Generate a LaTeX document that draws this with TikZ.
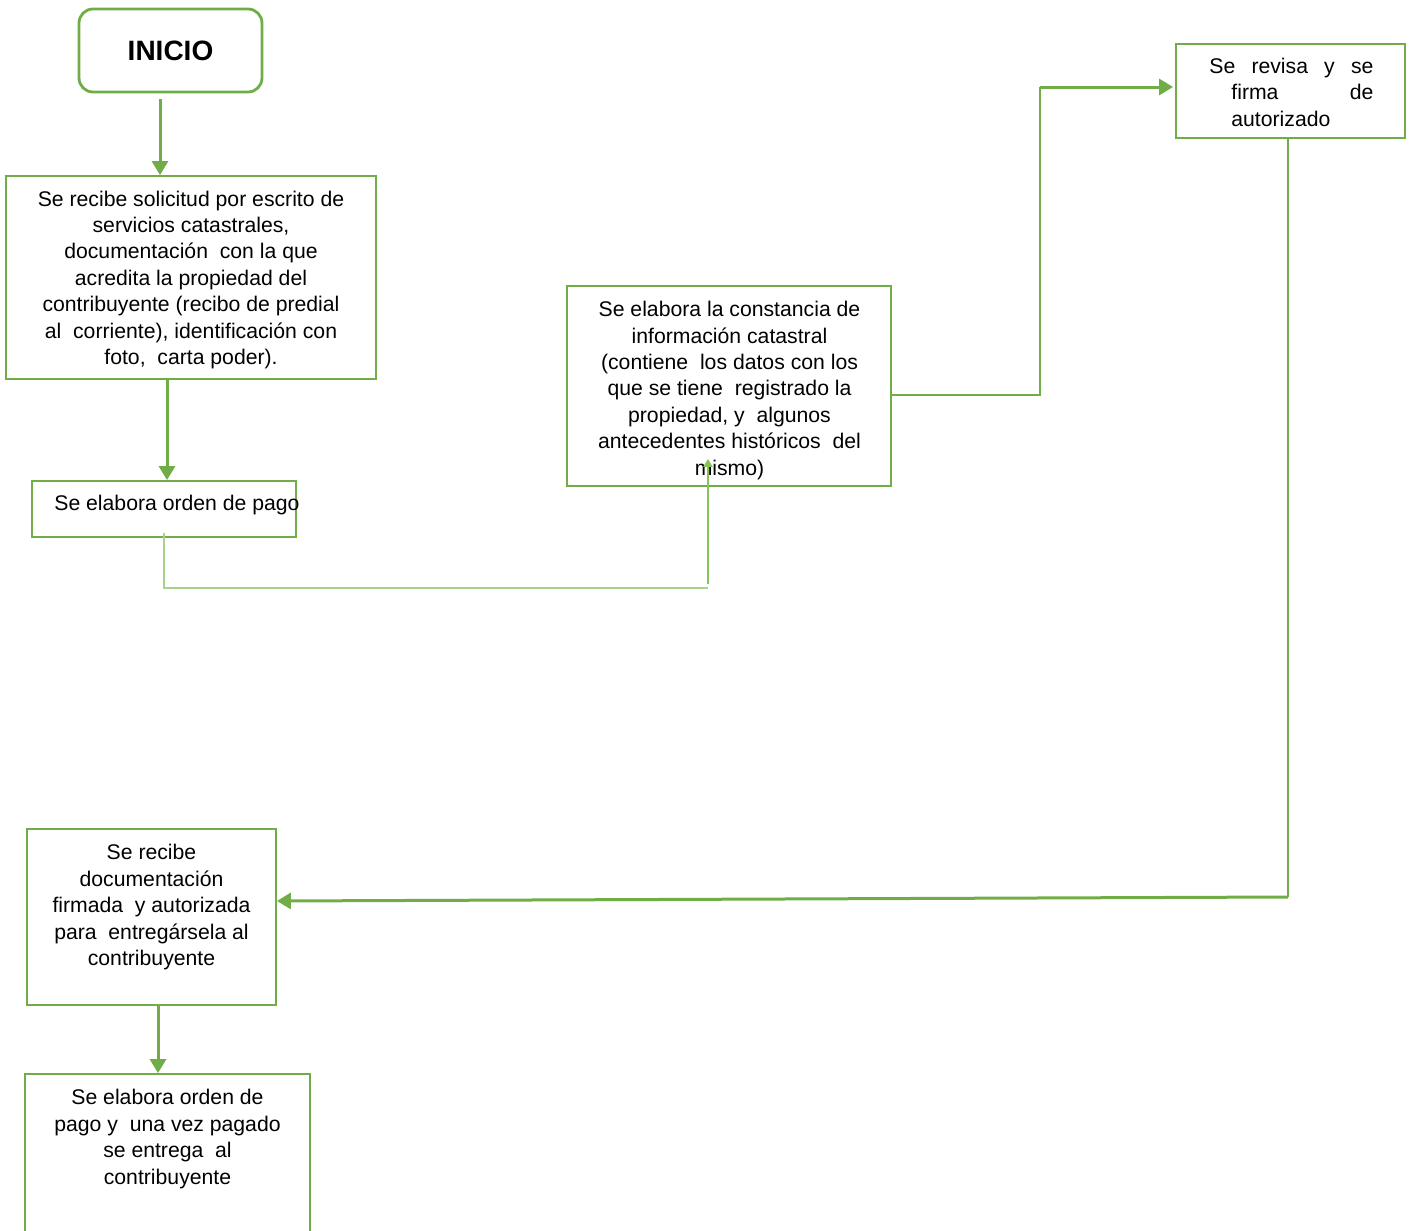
\documentclass[tikz,border=0pt]{standalone}
\usepackage{fontspec}
\setmainfont{Liberation Sans}
\usetikzlibrary{arrows.meta}
\definecolor{boxgreen}{HTML}{70AD47}
\definecolor{palegreen}{HTML}{A9D18E}
\definecolor{brightgreen}{HTML}{84C556}

\begin{document}
\begin{tikzpicture}[x=0.5pt,y=-0.5pt,
  box/.style={draw=boxgreen,line width=0.9pt,inner sep=0pt,rectangle},
  % multi-line texts are placed by the baseline of their last line
  txt/.style={align=center,inner sep=0pt,anchor=base,
    font=\fontsize{10.6}{13.2}\selectfont},
  arr/.style={draw=boxgreen,line width=1.5pt,
    -{Triangle[length=7pt,width=8pt]}},
  link/.style={draw=boxgreen,line width=0.8pt},
  palelink/.style={draw=palegreen,line width=0.8pt},
  uparr/.style={draw=brightgreen,line width=1.4pt,
    -{Triangle[length=4pt,width=4.5pt]}},
]
\useasboundingbox (0,0) rectangle (1409,1231);
\clip (0,0) rectangle (1409,1231);

% start terminal
\node[draw=boxgreen,line width=1.4pt,rounded corners=7pt,
  minimum width=91.5pt,minimum height=41.5pt,
  font=\bfseries\fontsize{14}{16}\selectfont] (inicio) at (170.5,50.5) {INICIO};

% process boxes
\node[box,minimum width=185pt,minimum height=101.5pt] (recibe) at (191,277.5) {};
\node[txt] (recibeT) at (191,364.5) {Se recibe solicitud por escrito de\\
  servicios catastrales,\\
  documentación\ \ con la que\\
  acredita la propiedad del\\
  contribuyente (recibo de predial\\
  al\ \ corriente), identificación con\\
  foto,\ \ carta poder).};

\node[box,minimum width=132pt,minimum height=28pt] (orden) at (164,509) {};
\node[txt,anchor=base west] (ordenT) at (54,510) {Se elabora orden de pago};

\node[box,minimum width=162pt,minimum height=100pt] (constancia) at (729,386) {};
\node[txt] (constanciaT) at (729.5,475) {Se elabora la constancia de\\
  información catastral\\
  (contiene\ \ los datos con los\\
  que se tiene\ \ registrado la\\
  propiedad, y\ \ algunos\\
  antecedentes históricos\ \ del\\
  mismo)};

\node[box,minimum width=114.5pt,minimum height=47pt] (revisa) at (1290.5,91) {};
\node[txt,align=left,anchor=base west] (revisaT) at (1209,126)
  {\makebox[82pt][s]{Se revisa y se}\\
   \hspace*{11pt}\makebox[71pt][s]{firma de}\\
   \hspace*{11pt}autorizado};

\node[box,minimum width=124.5pt,minimum height=88pt] (firmada) at (151.5,917) {};
\node[txt] (firmadaT) at (151.5,965.5) {Se recibe\\
  documentación\\
  firmada\ \ y autorizada\\
  para\ \ entregársela al\\
  contribuyente};

\node[box,minimum width=142.5pt,minimum height=93pt] (entrega) at (167.5,1167) {};
\node[txt] (entregaT) at (167.5,1184) {Se elabora orden de\\
  pago y\ \ una vez pagado\\
  se entrega\ \ al\\
  contribuyente};

% bends of the connectors
\coordinate (bendA) at (164,588);
\coordinate (bendB) at (708,588);
\coordinate (bendC) at (1040,87);
\coordinate (bendD) at (1288,897);

% connectors
\draw[arr] ([xshift=-5.25pt,yshift=-3pt]inicio.south)
  -- ([xshift=-5.25pt]inicio.south |- recibe.north);
\draw[arr] ([xshift=1.5pt]orden.north |- recibe.south) -- ([xshift=1.5pt]orden.north);
\draw[palelink] ([yshift=2.5pt]orden.south) -- (bendA) -- (bendB);
\draw[uparr] ([yshift=2pt]bendB) -- ([xshift=-10.5pt,yshift=14pt]constancia.south);
\draw[link] ([yshift=-4.5pt]constancia.east) -| (bendC);
\draw[arr,shorten >=1pt] (bendC) -- ([yshift=2pt]revisa.west);
\draw[link] ([xshift=-1.25pt]revisa.south) -- (bendD);
\draw[arr] (bendD) -- ([yshift=8pt]firmada.east);
\draw[arr] ([xshift=3.25pt]firmada.south) -- ([xshift=3.25pt]firmada.south |- entrega.north);
\end{tikzpicture}
\end{document}
